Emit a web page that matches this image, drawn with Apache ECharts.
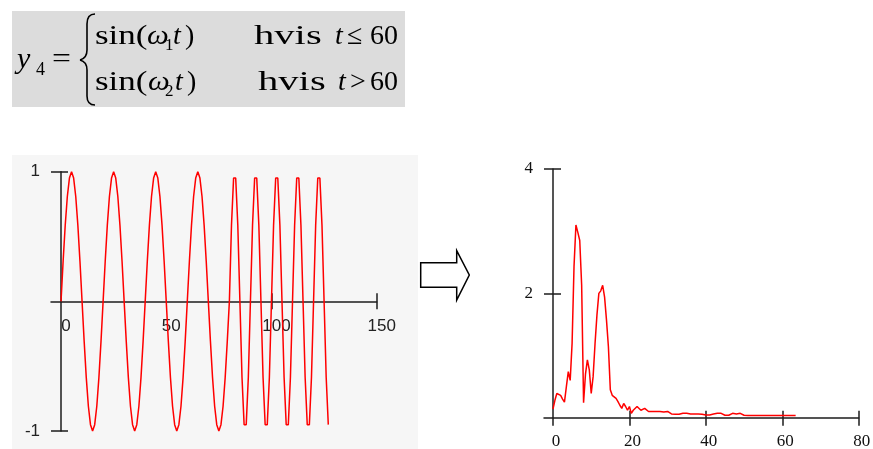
<!DOCTYPE html>
<html>
<head>
<meta charset="utf-8">
<script src="https://cdn.jsdelivr.net/npm/echarts@6/dist/echarts.min.js"></script>
<style>
    html, body { margin: 0; padding: 0; background: #fff; }
    #main { width: 873px; height: 449px; }
</style>
</head>
<body>
<div id="main"></div>
<script>
// y4 sampled once per t (t = 0..127)
var signalValues = [
    0, 0.309, 0.588, 0.809, 0.951, 1, 0.951, 0.809, 0.588, 0.309, 0, -0.309, -0.588, -0.809, -0.951, -1, -0.951, -0.809, -0.588, -0.309,
    0, 0.309, 0.588, 0.809, 0.951, 1, 0.951, 0.809, 0.588, 0.309, 0, -0.309, -0.588, -0.809, -0.951, -1, -0.951, -0.809, -0.588, -0.309,
    0, 0.309, 0.588, 0.809, 0.951, 1, 0.951, 0.809, 0.588, 0.309, 0, -0.309, -0.588, -0.809, -0.951, -1, -0.951, -0.809, -0.588, -0.309,
    0, 0.309, 0.588, 0.809, 0.951, 1, 0.951, 0.809, 0.588, 0.309, 0, -0.309, -0.588, -0.809, -0.951, -1, -0.951, -0.809, -0.588, -0.309,
    0, 0.588, 0.951, 0.951, 0.588, 0, -0.588, -0.951, -0.951, -0.588,
    0, 0.588, 0.951, 0.951, 0.588, 0, -0.588, -0.951, -0.951, -0.588,
    0, 0.588, 0.951, 0.951, 0.588, 0, -0.588, -0.951, -0.951, -0.588,
    0, 0.588, 0.951, 0.951, 0.588, 0, -0.588, -0.951, -0.951, -0.588,
    0, 0.588, 0.951, 0.951, 0.588, 0, -0.588, -0.951
];

// amplitude spectrum, one value per half unit (0 .. 63.5)
var spectrumStep = 0.5;
var spectrumValues = [
    0.14, 0.28, 0.39, 0.40, 0.36, 0.30, 0.25, 0.50, 0.74, 0.60,
    1.20, 2.43, 3.10, 2.98, 2.85, 2.13, 0.24, 0.70, 0.93, 0.77,
    0.39, 0.66, 1.19, 1.65, 2.00, 2.04, 2.13, 1.94, 1.57, 1.14,
    0.45, 0.36, 0.33, 0.31, 0.26, 0.20, 0.15, 0.23, 0.18, 0.12,
    0.18, 0.07, 0.12, 0.15, 0.18, 0.15, 0.12, 0.13, 0.15, 0.12,
    0.10, 0.07, 0.10, 0.10, 0.10, 0.10, 0.10, 0.10, 0.09, 0.07,
    0.10, 0.09, 0.06, 0.055, 0.055, 0.055, 0.055, 0.045, 0.07, 0.07,
    0.07, 0.07, 0.06, 0.06, 0.06, 0.06, 0.06, 0.055, 0.055, 0.045,
    0.045, 0.045, 0.045, 0.07, 0.06, 0.055, 0.07, 0.055, 0.07, 0.06,
    0.04, 0.04, 0.04, 0.04, 0.07, 0.07, 0.06, 0.07, 0.07, 0.07,
    0.04, 0.035, 0.035, 0.035, 0.035, 0.035, 0.035, 0.035, 0.035, 0.035,
    0.035, 0.035, 0.035, 0.035, 0.035, 0.035, 0.035, 0.035, 0.035, 0.035,
    0.035, 0.035, 0.035, 0.035, 0.035, 0.035, 0.035, 0.035
];

var timeLabels = [0, 50, 100, 150];
var timeTicks = [100, 150];
var signalTicks = [-1, 1];
var freqLabels = [0, 20, 40, 60, 80];
var ampTicks = [2, 4];

(function () {
    var myChart = echarts.init(document.getElementById('main'));

    var signalData = signalValues.map(function (v, t) { return [t, v]; });
    var spectrumData = spectrumValues.map(function (v, i) { return [i * spectrumStep, v]; });

    var ink = '#1c1c1c';
    var axisLineStyle = { color: ink, width: 1.5 };
    var sansLabel = { color: '#222', fontFamily: 'Liberation Sans', fontSize: 17 };
    var serifLabel = { color: '#111', fontFamily: 'Liberation Serif', fontSize: 17 };

    // formula pieces (serif, like the original equation editor)
    function txt(s, x, y, opt) {
        opt = opt || {};
        var size = opt.size || 28;
        return {
            type: 'text',
            x: x, y: y,
            scaleX: opt.sx || 1,
            style: {
                text: s,
                fontFamily: 'Liberation Serif',
                fontSize: size,
                fontStyle: opt.italic ? 'italic' : 'normal',
                fill: '#000',
                textAlign: 'left', align: 'left',
                textVerticalAlign: 'middle', verticalAlign: 'middle'
            }
        };
    }
    function curve(x1, y1, c1x, c1y, c2x, c2y, x2, y2) {
        return {
            type: 'bezierCurve',
            shape: { x1: x1, y1: y1, cpx1: c1x, cpy1: c1y, cpx2: c2x, cpy2: c2y, x2: x2, y2: y2 },
            style: { fill: null, stroke: '#000', lineWidth: 1.6 }
        };
    }
    function seg(x1, y1, x2, y2) {
        return {
            type: 'line',
            shape: { x1: x1, y1: y1, x2: x2, y2: y2 },
            style: { stroke: '#000', lineWidth: 1.6 }
        };
    }

    // axes are shifted onto the zero lines with offset (ticks cross the line,
    // so each axis gets a partner on the opposite side for the other half)
    var option = {
        animation: false,
        backgroundColor: '#fff',
        grid: [
            { left: 51, top: 171.7, width: 325.7, height: 259.3, outerBoundsMode: 'none' },
            { left: 544, top: 169, width: 314.7, height: 248.7, outerBoundsMode: 'none' }
        ],
        xAxis: [
            {
                gridIndex: 0, type: 'value', min: -4.76, max: 150,
                position: 'bottom', offset: -129.65,
                axisLine: { onZero: false, lineStyle: axisLineStyle },
                axisTick: { customValues: timeTicks, length: 8, lineStyle: axisLineStyle },
                axisLabel: Object.assign({ customValues: timeLabels, margin: 16, padding: [0, 0, 0, 10] }, sansLabel),
                splitLine: { show: false }
            },
            {
                gridIndex: 0, type: 'value', min: -4.76, max: 150,
                position: 'top', offset: -129.65,
                axisLine: { show: false, onZero: false },
                axisTick: { customValues: timeTicks, length: 8, lineStyle: axisLineStyle },
                axisLabel: { show: false },
                splitLine: { show: false }
            },
            {
                gridIndex: 1, type: 'value', min: -2.355, max: 80,
                position: 'bottom', offset: 0,
                axisLine: { onZero: false, lineStyle: axisLineStyle },
                axisTick: { customValues: freqLabels, length: 8, lineStyle: axisLineStyle },
                axisLabel: Object.assign({ customValues: freqLabels, margin: 15, padding: [0, 0, 0, 6] }, serifLabel),
                splitLine: { show: false }
            },
            {
                gridIndex: 1, type: 'value', min: -2.355, max: 80,
                position: 'top', offset: -248.7,
                axisLine: { show: false, onZero: false },
                axisTick: { customValues: freqLabels.slice(1), length: 7, lineStyle: axisLineStyle },
                axisLabel: { show: false },
                splitLine: { show: false }
            }
        ],
        yAxis: [
            {
                gridIndex: 0, type: 'value', min: -1, max: 1,
                position: 'left', offset: -10,
                axisLine: { show: true, onZero: false, lineStyle: axisLineStyle },
                axisTick: { show: true, customValues: signalTicks, length: 10, lineStyle: axisLineStyle },
                axisLabel: Object.assign({ customValues: signalTicks, margin: 21, padding: [10, 0, 0, 0] }, sansLabel),
                splitLine: { show: false }
            },
            {
                gridIndex: 0, type: 'value', min: -1, max: 1,
                position: 'right', offset: -315.7,
                axisLine: { show: false, onZero: false },
                axisTick: { show: true, customValues: signalTicks, length: 7, lineStyle: axisLineStyle },
                axisLabel: { show: false },
                splitLine: { show: false }
            },
            {
                gridIndex: 1, type: 'value', min: 0, max: 4,
                position: 'left', offset: -9,
                axisLine: { show: true, onZero: false, lineStyle: axisLineStyle },
                axisTick: { show: true, customValues: ampTicks, length: 9, lineStyle: axisLineStyle },
                axisLabel: Object.assign({ customValues: ampTicks, margin: 20, padding: [8, 0, 0, 0] }, serifLabel),
                splitLine: { show: false }
            },
            {
                gridIndex: 1, type: 'value', min: 0, max: 4,
                position: 'right', offset: -305.7,
                axisLine: { show: false, onZero: false },
                axisTick: { show: true, customValues: ampTicks, length: 8, lineStyle: axisLineStyle },
                axisLabel: { show: false },
                splitLine: { show: false }
            }
        ],
        series: [
            {
                name: 'y4',
                type: 'line',
                xAxisIndex: 0, yAxisIndex: 0,
                data: signalData,
                showSymbol: false, symbol: 'none',
                clip: false,
                lineStyle: { color: '#ff0000', width: 1.5 },
                z: 3
            },
            {
                name: 'spekter',
                type: 'line',
                xAxisIndex: 2, yAxisIndex: 2,
                data: spectrumData,
                showSymbol: false, symbol: 'none',
                clip: false,
                lineStyle: { color: '#ff0000', width: 1.5 },
                z: 3
            }
        ],
        graphic: [
            // grey backgrounds
            { type: 'rect', z: -10, shape: { x: 12, y: 11, width: 393, height: 96 }, style: { fill: '#dcdcdc' } },
            { type: 'rect', z: -10, shape: { x: 12, y: 155, width: 406, height: 294 }, style: { fill: '#f6f6f6' } },
            // formula y4 = { ... }
            txt('y', 17, 60, { italic: true, size: 30 }),
            txt('4', 36, 70, { size: 18 }),
            txt('=', 52, 60, { size: 28, sx: 1.2 }),
            // curly brace
            curve(95, 14, 89, 14, 87, 18, 87, 24),
            seg(87, 24, 87, 50),
            curve(87, 50, 87, 56, 84, 59, 80, 60),
            curve(80, 60, 84, 61, 87, 64, 87, 70),
            seg(87, 70, 87, 96),
            curve(87, 96, 87, 102, 89, 105, 95, 105),
            txt('sin(', 95, 37, { sx: 1.25 }),
            txt('\u03c9', 147, 37, { italic: true, sx: 1.1 }),
            txt('1', 165, 46, { size: 17 }),
            txt('t', 173, 37, { italic: true }),
            txt(')', 185, 37),
            txt('hvis', 254, 37, { sx: 1.45 }),
            txt('t', 335, 37, { italic: true }),
            txt('\u2264', 347, 37),
            txt('60', 370, 37),
            txt('sin(', 95, 83, { sx: 1.25 }),
            txt('\u03c9', 148, 83, { italic: true, sx: 1.1 }),
            txt('2', 165, 92, { size: 17 }),
            txt('t', 175, 83, { italic: true }),
            txt(')', 187, 83),
            txt('hvis', 258, 83, { sx: 1.45 }),
            txt('t', 338, 83, { italic: true }),
            txt('>', 350, 83),
            txt('60', 370, 83),
            // arrow between the plots
            {
                type: 'polygon',
                shape: { points: [[420.7, 262.7], [456.7, 262.7], [456.7, 250.7], [469.3, 275], [456.7, 300], [456.7, 287.3], [420.7, 287.3]] },
                style: { fill: '#fff', stroke: '#000', lineWidth: 1.5 }
            }
        ]
    };
    myChart.setOption(option);
    window.addEventListener("resize", function () {
        myChart.resize();
    });
})();
</script>
</body>
</html>
